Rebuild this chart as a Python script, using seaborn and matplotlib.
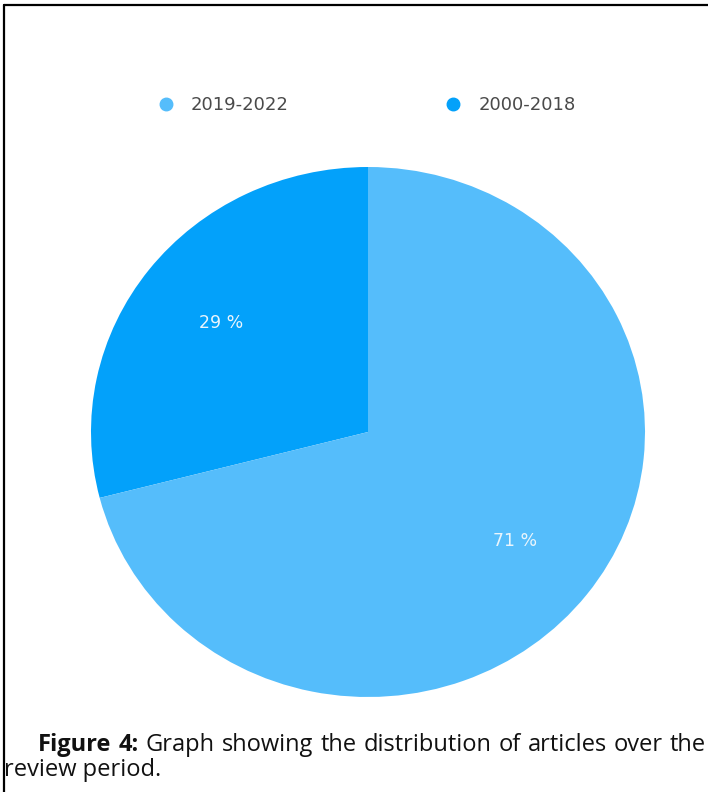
import matplotlib
matplotlib.use("Agg")
import matplotlib.pyplot as plt
from matplotlib.lines import Line2D
import seaborn as sns

# ---- data ----
periods = ["2000-2018", "2019-2022"]
shares = [29, 71]
legend_order = ["2019-2022", "2000-2018"]
colors = {"2000-2018": "#03a1fa", "2019-2022": "#55bdfb"}
caption_bold = ["Figure", "4:"]
caption_rest = ["Graph", "showing", "the", "distribution", "of", "articles", "over", "the"]
caption_line2 = "review period."

sns.set_theme(style="white")
plt.rcParams["font.family"] = ["DejaVu Sans"]

W, H = 708, 792
fig = plt.figure(figsize=(W / 100, H / 100), dpi=100)
fig.patch.set_facecolor("white")

# pie axes: radius 1 -> ~277 px horizontally, ~265 px vertically
cx, cy, rx, ry = 368, 432, 277, 265
ax = fig.add_axes([(cx - rx) / W, (H - cy - ry) / H, 2 * rx / W, 2 * ry / H])
wedges, texts, autotexts = ax.pie(
    shares,
    colors=[colors[p] for p in periods],
    startangle=90,
    counterclock=True,
    autopct=lambda p: f"{p:.0f} %",
    pctdistance=0.67,
    textprops=dict(color="#eaf5fc", fontsize=12.5, family=["DejaVu Sans"]),
    wedgeprops=dict(linewidth=0),
)
ax.set_aspect("auto")
ax.set_xlim(-1, 1)
ax.set_ylim(-1, 1)
ax.axis("off")

# legend
fs_leg = 13
em = fs_leg * 100 / 72
handles = [Line2D([0], [0], marker="o", linestyle="none", markersize=9,
                  markerfacecolor=colors[p], markeredgecolor=colors[p]) for p in legend_order]
fig.legend(handles, legend_order, loc="center left",
           bbox_to_anchor=((157 - 0.5 * em - 0.4 * em) / W, 1 - 105 / H),
           ncol=2, frameon=False, fontsize=fs_leg, labelcolor="#4a4a4a",
           handletextpad=(182 - 157 - 0.5 * em) / em, columnspacing=8.6,
           handlelength=1.0, borderpad=0.4)

# caption (justified first line)
cap_font = ["Open Sans", "DejaVu Sans"]
fs_cap = 17
y1 = 1 - 745 / H
y2 = 1 - 770 / H
renderer = fig.canvas.get_renderer()
words = [(w, "bold") for w in caption_bold] + [(w, "normal") for w in caption_rest]
objs = []
for w, wt in words:
    t = fig.text(0, y1, w, fontsize=fs_cap, fontweight=wt, family=cap_font,
                 va="center", ha="left", color="#111111")
    objs.append(t)
widths = [t.get_window_extent(renderer).width for t in objs]
x_start, x_end = 38, 706
gap = (x_end - x_start - sum(widths)) / (len(objs) - 1)
x = x_start
for t, wdt in zip(objs, widths):
    t.set_x(x / W)
    x += wdt + gap
fig.text(4 / W, y2, caption_line2, fontsize=fs_cap, family=cap_font,
         va="center", ha="left", color="#111111")

# frame lines (top and left)
fig.add_artist(Line2D([4 / W, 1], [1 - 5 / H, 1 - 5 / H], color="black", lw=1.6,
                      transform=fig.transFigure))
fig.add_artist(Line2D([4 / W, 4 / W], [0, 1 - 5 / H], color="black", lw=1.6,
                      transform=fig.transFigure))

fig.savefig("out.png", dpi=100)
